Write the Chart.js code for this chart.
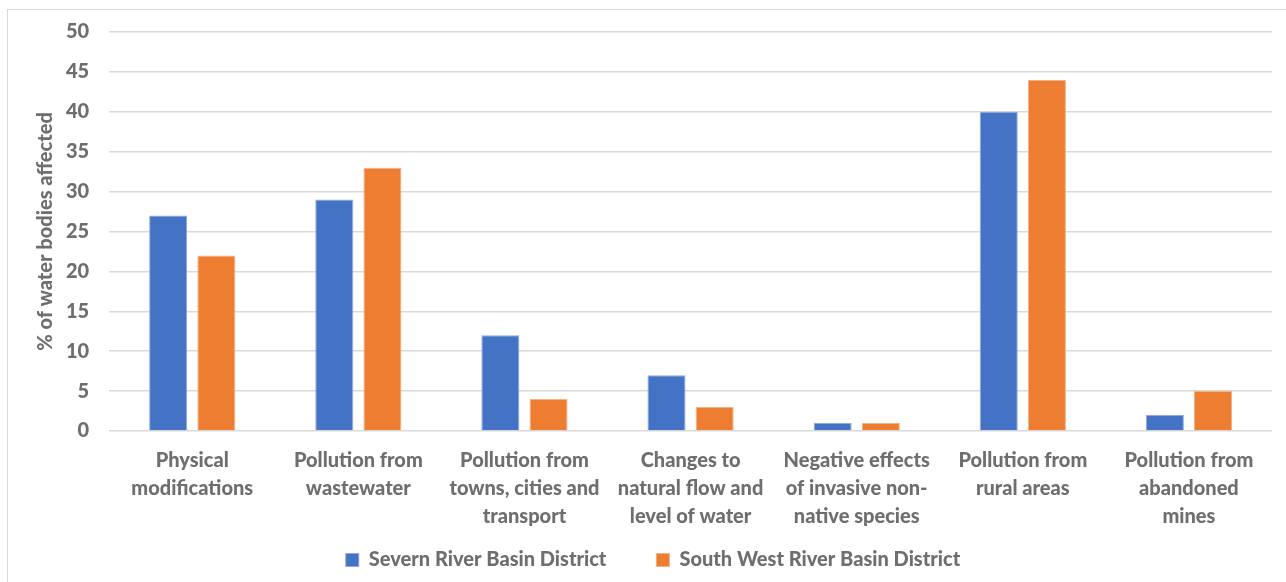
<!DOCTYPE html>
<html>
<head>
<meta charset="utf-8">
<script src="https://cdn.jsdelivr.net/npm/chart.js@4.4.0/dist/chart.umd.min.js"></script>
<style>
  html, body { margin: 0; padding: 0; background: #fff; }
  #frame {
    position: absolute; left: 7px; top: 9px;
    width: 1290px; height: 600px;
    border: 1px solid #d9d9d9;
  }
  #chart { position: absolute; left: 0; top: 0; }
</style>
</head>
<body>
<div id="frame"></div>
<canvas id="chart" width="1286" height="582"></canvas>
<script>
// categories (multi-line labels)
const categories = [
    ['Physical', 'modifications'],
    ['Pollution from', 'wastewater'],
    ['Pollution from', 'towns, cities and', 'transport'],
    ['Changes to', 'natural flow and', 'level of water'],
    ['Negative effects', 'of invasive non-', 'native species'],
    ['Pollution from', 'rural areas'],
    ['Pollution from', 'abandoned', 'mines']
];
const severn = [27, 29, 12, 7, 1, 40, 2];
const southWest = [22, 33, 4, 3, 1, 44, 5];
const yTicks = [0, 5, 10, 15, 20, 25, 30, 35, 40, 45, 50];

const textColor = '#6e6e6e';
const fontFamily = 'Lato, "Open Sans", sans-serif';
const labelFont = { family: fontFamily, size: 20, weight: '900' };

// legend padding is wide (for the gap between items), so pull the row back up;
// the bottom edge stays put so the legend's clip box still holds the row
const legendLift = {
    id: 'legendLift',
    afterLayout(chart) {
        chart.legend.top -= 39;
        chart.legend.bottom = chart.height;
    }
};

new Chart(document.getElementById('chart'), {
    type: 'bar',
    data: {
        labels: categories,
        datasets: [
            {
                label: 'Severn River Basin District',
                data: severn,
                backgroundColor: '#4472C4',
                borderColor: '#8fa9dc',
                borderWidth: 1,
                barPercentage: 0.79,
                categoryPercentage: 0.58
            },
            {
                label: 'South West River Basin District',
                data: southWest,
                backgroundColor: '#ED7D31',
                borderColor: '#f5b084',
                borderWidth: 1,
                barPercentage: 0.79,
                categoryPercentage: 0.58
            }
        ]
    },
    plugins: [legendLift],
    options: {
        responsive: false,
        animation: false,
        layout: { padding: { left: 34, right: 14, top: 32, bottom: 0 } },
        plugins: {
            tooltip: { enabled: false },
            legend: {
                position: 'bottom',
                maxHeight: 43,
                labels: {
                    color: textColor,
                    font: labelFont,
                    boxWidth: 13,
                    boxHeight: 13,
                    padding: 50
                }
            }
        },
        scales: {
            x: {
                grid: { display: false },
                border: { display: false },
                ticks: {
                    color: textColor,
                    font: Object.assign({ lineHeight: 1.4 }, labelFont),
                    maxRotation: 0,
                    autoSkip: false,
                    padding: 8
                }
            },
            y: {
                min: 0,
                max: 50,
                afterBuildTicks: axis => { axis.ticks = yTicks.map(v => ({ value: v })); },
                afterFit: s => { s.width -= 12; },
                grid: { color: '#d9d9d9', lineWidth: 1.5, drawTicks: false },
                border: { display: false },
                ticks: {
                    color: textColor,
                    font: labelFont,
                    padding: 20
                },
                title: {
                    display: true,
                    text: '% of water bodies affected',
                    color: textColor,
                    font: labelFont,
                    padding: { top: 0, bottom: 0 }
                }
            }
        }
    }
});
</script>
</body>
</html>
